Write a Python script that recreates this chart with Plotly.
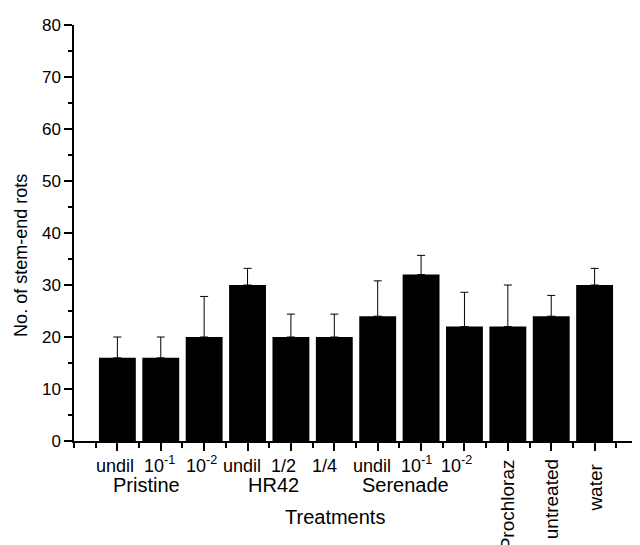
import plotly.graph_objects as go

# ---- data ----
categories = ["undil", "10<sup>-1</sup>", "10<sup>-2</sup>", "undil", "1/2", "1/4",
              "undil", "10<sup>-1</sup>", "10<sup>-2</sup>", "Prochloraz", "untreated", "water"]
values = [16, 16, 20, 30, 20, 20, 24, 32, 22, 22, 24, 30]
errors_up = [4, 4, 7.8, 3.2, 4.4, 4.4, 6.8, 3.7, 6.6, 8, 4, 3.2]
groups = ["Pristine", "HR42", "Serenade"]
group_pos = [1.66, 4.6, 7.65]
rotated_idx = [9, 10, 11]
y_ticks = [0, 10, 20, 30, 40, 50, 60, 70, 80]

FONT = "Arial, 'Liberation Sans', sans-serif"
xs = list(range(1, len(values) + 1))

fig = go.Figure()
fig.add_trace(go.Bar(
    x=xs, y=values, width=0.85,
    marker=dict(color="black", line=dict(width=0)),
    error_y=dict(type="data", symmetric=False, array=errors_up,
                 arrayminus=[0] * len(values), color="black",
                 thickness=1, width=4),
    showlegend=False,
))

annotations = []
label_shift = [-2, -1, -3, -6, -7, -10, -6, -5, -8]
rot_shift = [-16, -16, -21]
for i, lab in enumerate(categories):
    if i in rotated_idx:
        annotations.append(dict(
            x=xs[i], y=0, xref="x", yref="paper", text=lab, showarrow=False,
            textangle=-90, xanchor="center", yanchor="top",
            yshift=rot_shift[rotated_idx.index(i)],
            font=dict(family=FONT, size=19, color="black")))
    else:
        annotations.append(dict(
            x=xs[i], y=0, xref="x", yref="paper", text=lab, showarrow=False,
            xanchor="center", yanchor="bottom", yshift=-37,
            xshift=label_shift[i],
            font=dict(family=FONT, size=18, color="black")))
for g, p in zip(groups, group_pos):
    annotations.append(dict(
        x=p, y=0, xref="x", yref="paper", text=g, showarrow=False,
        xanchor="center", yanchor="middle", yshift=-44,
        font=dict(family=FONT, size=20, color="black")))
annotations.append(dict(
    x=0.462, y=0, xref="paper", yref="paper", text="Treatments", showarrow=False,
    xanchor="center", yanchor="middle", yshift=-76,
    font=dict(family=FONT, size=20, color="black")))
annotations.append(dict(
    x=0, y=0.445, xref="paper", yref="paper", text="No. of stem-end rots",
    showarrow=False, textangle=-90, xanchor="center", yanchor="middle",
    xshift=-53, font=dict(family=FONT, size=18, color="black")))

fig.update_layout(
    width=632, height=537,
    margin=dict(l=66, r=2, t=17, b=104),
    paper_bgcolor="white", plot_bgcolor="white",
    font=dict(family=FONT, color="black"),
    annotations=annotations,
    xaxis=dict(
        range=[0, 13], showline=True, linecolor="black", linewidth=1.5,
        showgrid=False, zeroline=False, ticks="outside", tickvals=xs,
        ticklen=8, tickwidth=1.5, tickcolor="black", showticklabels=False,
        minor=dict(tickvals=[0, 0.5, 1.5, 2.5, 3.5, 4.5, 5.5, 6.5, 7.5, 8.5,
                             9.5, 10.5, 11.5, 12.5, 13],
                   ticks="outside", ticklen=5, tickwidth=1.5,
                   tickcolor="black", showgrid=False),
        fixedrange=True,
    ),
    yaxis=dict(
        range=[0, 80], showline=True, linecolor="black", linewidth=1.5,
        showgrid=False, zeroline=False, ticks="outside", tickvals=y_ticks,
        ticklen=8, tickwidth=1.5, tickcolor="black",
        tickfont=dict(family=FONT, size=17, color="black"),
        minor=dict(dtick=5, ticks="outside", ticklen=4, tickwidth=1.5,
                   tickcolor="black", showgrid=False),
        fixedrange=True,
    ),
)

fig.write_html("out.html")
